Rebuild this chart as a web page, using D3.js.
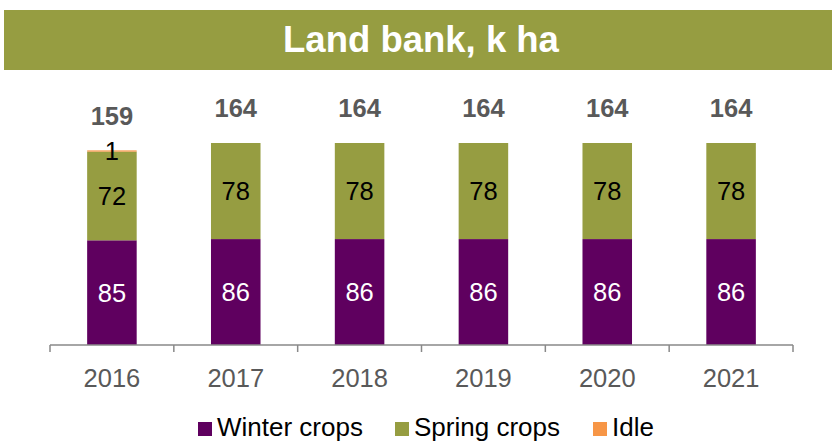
<!DOCTYPE html>
<html>
<head>
<meta charset="utf-8">
<script src="https://cdn.jsdelivr.net/npm/d3@7"></script>
<style>
  html, body { margin: 0; padding: 0; background: #fff; }
  svg { display: block; font-family: "Liberation Sans", Arial, sans-serif; }
</style>
</head>
<body>
<svg id="chart" width="832" height="443"></svg>
<script>
// Land bank by year, thousand hectares
const years = ["2016", "2017", "2018", "2019", "2020", "2021"];
const winterCrops = [85, 86, 86, 86, 86, 86];
const springCrops = [72, 78, 78, 78, 78, 78];
const idle = [1, 0, 0, 0, 0, 0];
const totals = [159, 164, 164, 164, 164, 164];
const seriesNames = ["Winter crops", "Spring crops", "Idle"];
const seriesColors = ["#5f005f", "#969d41", "#f79646"];
const labelColors = ["#ffffff", "#000000", "#000000"];

const svg = d3.select("#chart");
const W = 832;

// Title banner
svg.append("rect")
  .attr("x", 4).attr("y", 10).attr("width", W - 4).attr("height", 60)
  .attr("fill", "#969d41");
svg.append("text")
  .attr("x", 421).attr("y", 52)
  .attr("text-anchor", "middle")
  .attr("fill", "#ffffff")
  .attr("font-weight", "bold")
  .attr("font-size", 36.5)
  .text("Land bank, k ha");

// Plot area
const x0 = 50, x1 = 793, baseY = 345;
const x = d3.scaleBand().domain(years).range([x0, x1]).paddingInner(0.6).paddingOuter(0.3);
const y = d3.scaleLinear().domain([0, 164]).range([baseY, 143]);

const rows = years.map((yr, i) => ({
  year: yr,
  "Winter crops": winterCrops[i],
  "Spring crops": springCrops[i],
  "Idle": idle[i]
}));
const stack = d3.stack().keys(seriesNames)(rows);

const groups = svg.append("g").selectAll("g")
  .data(stack).join("g")
  .attr("fill", (d, i) => seriesColors[i]);

groups.selectAll("rect")
  .data(d => d)
  .join("rect")
  .attr("x", d => x(d.data.year))
  .attr("width", x.bandwidth())
  .attr("y", d => y(d[1]))
  .attr("height", d => y(d[0]) - y(d[1]));

// Segment value labels
stack.forEach((layer, si) => {
  svg.append("g").selectAll("text")
    .data(layer.filter(d => d[1] - d[0] > 0))
    .join("text")
    .attr("x", d => x(d.data.year) + x.bandwidth() / 2)
    .attr("y", d => (y(d[0]) + y(d[1])) / 2)
    .attr("dy", "0.36em")
    .attr("text-anchor", "middle")
    .attr("font-size", 25.5)
    .attr("fill", labelColors[si])
    .text(d => d[1] - d[0]);
});

// Totals above bars
svg.append("g").selectAll("text")
  .data(years)
  .join("text")
  .attr("x", d => x(d) + x.bandwidth() / 2)
  .attr("y", (d, i) => y(stack[2][i][1]) - 35)
  .attr("dy", "0.36em")
  .attr("text-anchor", "middle")
  .attr("font-size", 25.5)
  .attr("font-weight", "bold")
  .attr("fill", "#595959")
  .text((d, i) => totals[i]);

// Category axis with boundary ticks
const axisG = svg.append("g").attr("transform", `translate(0,${baseY})`);
axisG.append("line")
  .attr("x1", x0).attr("x2", x1)
  .attr("stroke", "#898989").attr("stroke-width", 1.5);
const bounds = d3.range(years.length + 1).map(i => x0 + i * (x1 - x0) / years.length);
axisG.selectAll("line.tick")
  .data(bounds).join("line")
  .attr("class", "tick")
  .attr("x1", d => d).attr("x2", d => d)
  .attr("y1", 0).attr("y2", 7)
  .attr("stroke", "#898989").attr("stroke-width", 1.5);
axisG.selectAll("text")
  .data(years).join("text")
  .attr("x", d => x(d) + x.bandwidth() / 2)
  .attr("y", 33)
  .attr("dy", "0.36em")
  .attr("text-anchor", "middle")
  .attr("font-size", 25.5)
  .attr("fill", "#595959")
  .text(d => d);

// Legend
const legendX = [198, 395, 593];
const legend = svg.append("g").selectAll("g")
  .data(seriesNames).join("g")
  .attr("transform", (d, i) => `translate(${legendX[i]},422)`);
legend.append("rect")
  .attr("width", 14).attr("height", 14)
  .attr("fill", (d, i) => seriesColors[i]);
legend.append("text")
  .attr("x", 19).attr("y", 14)
  .attr("font-size", 26)
  .attr("fill", "#000")
  .text(d => d);
</script>
</body>
</html>
